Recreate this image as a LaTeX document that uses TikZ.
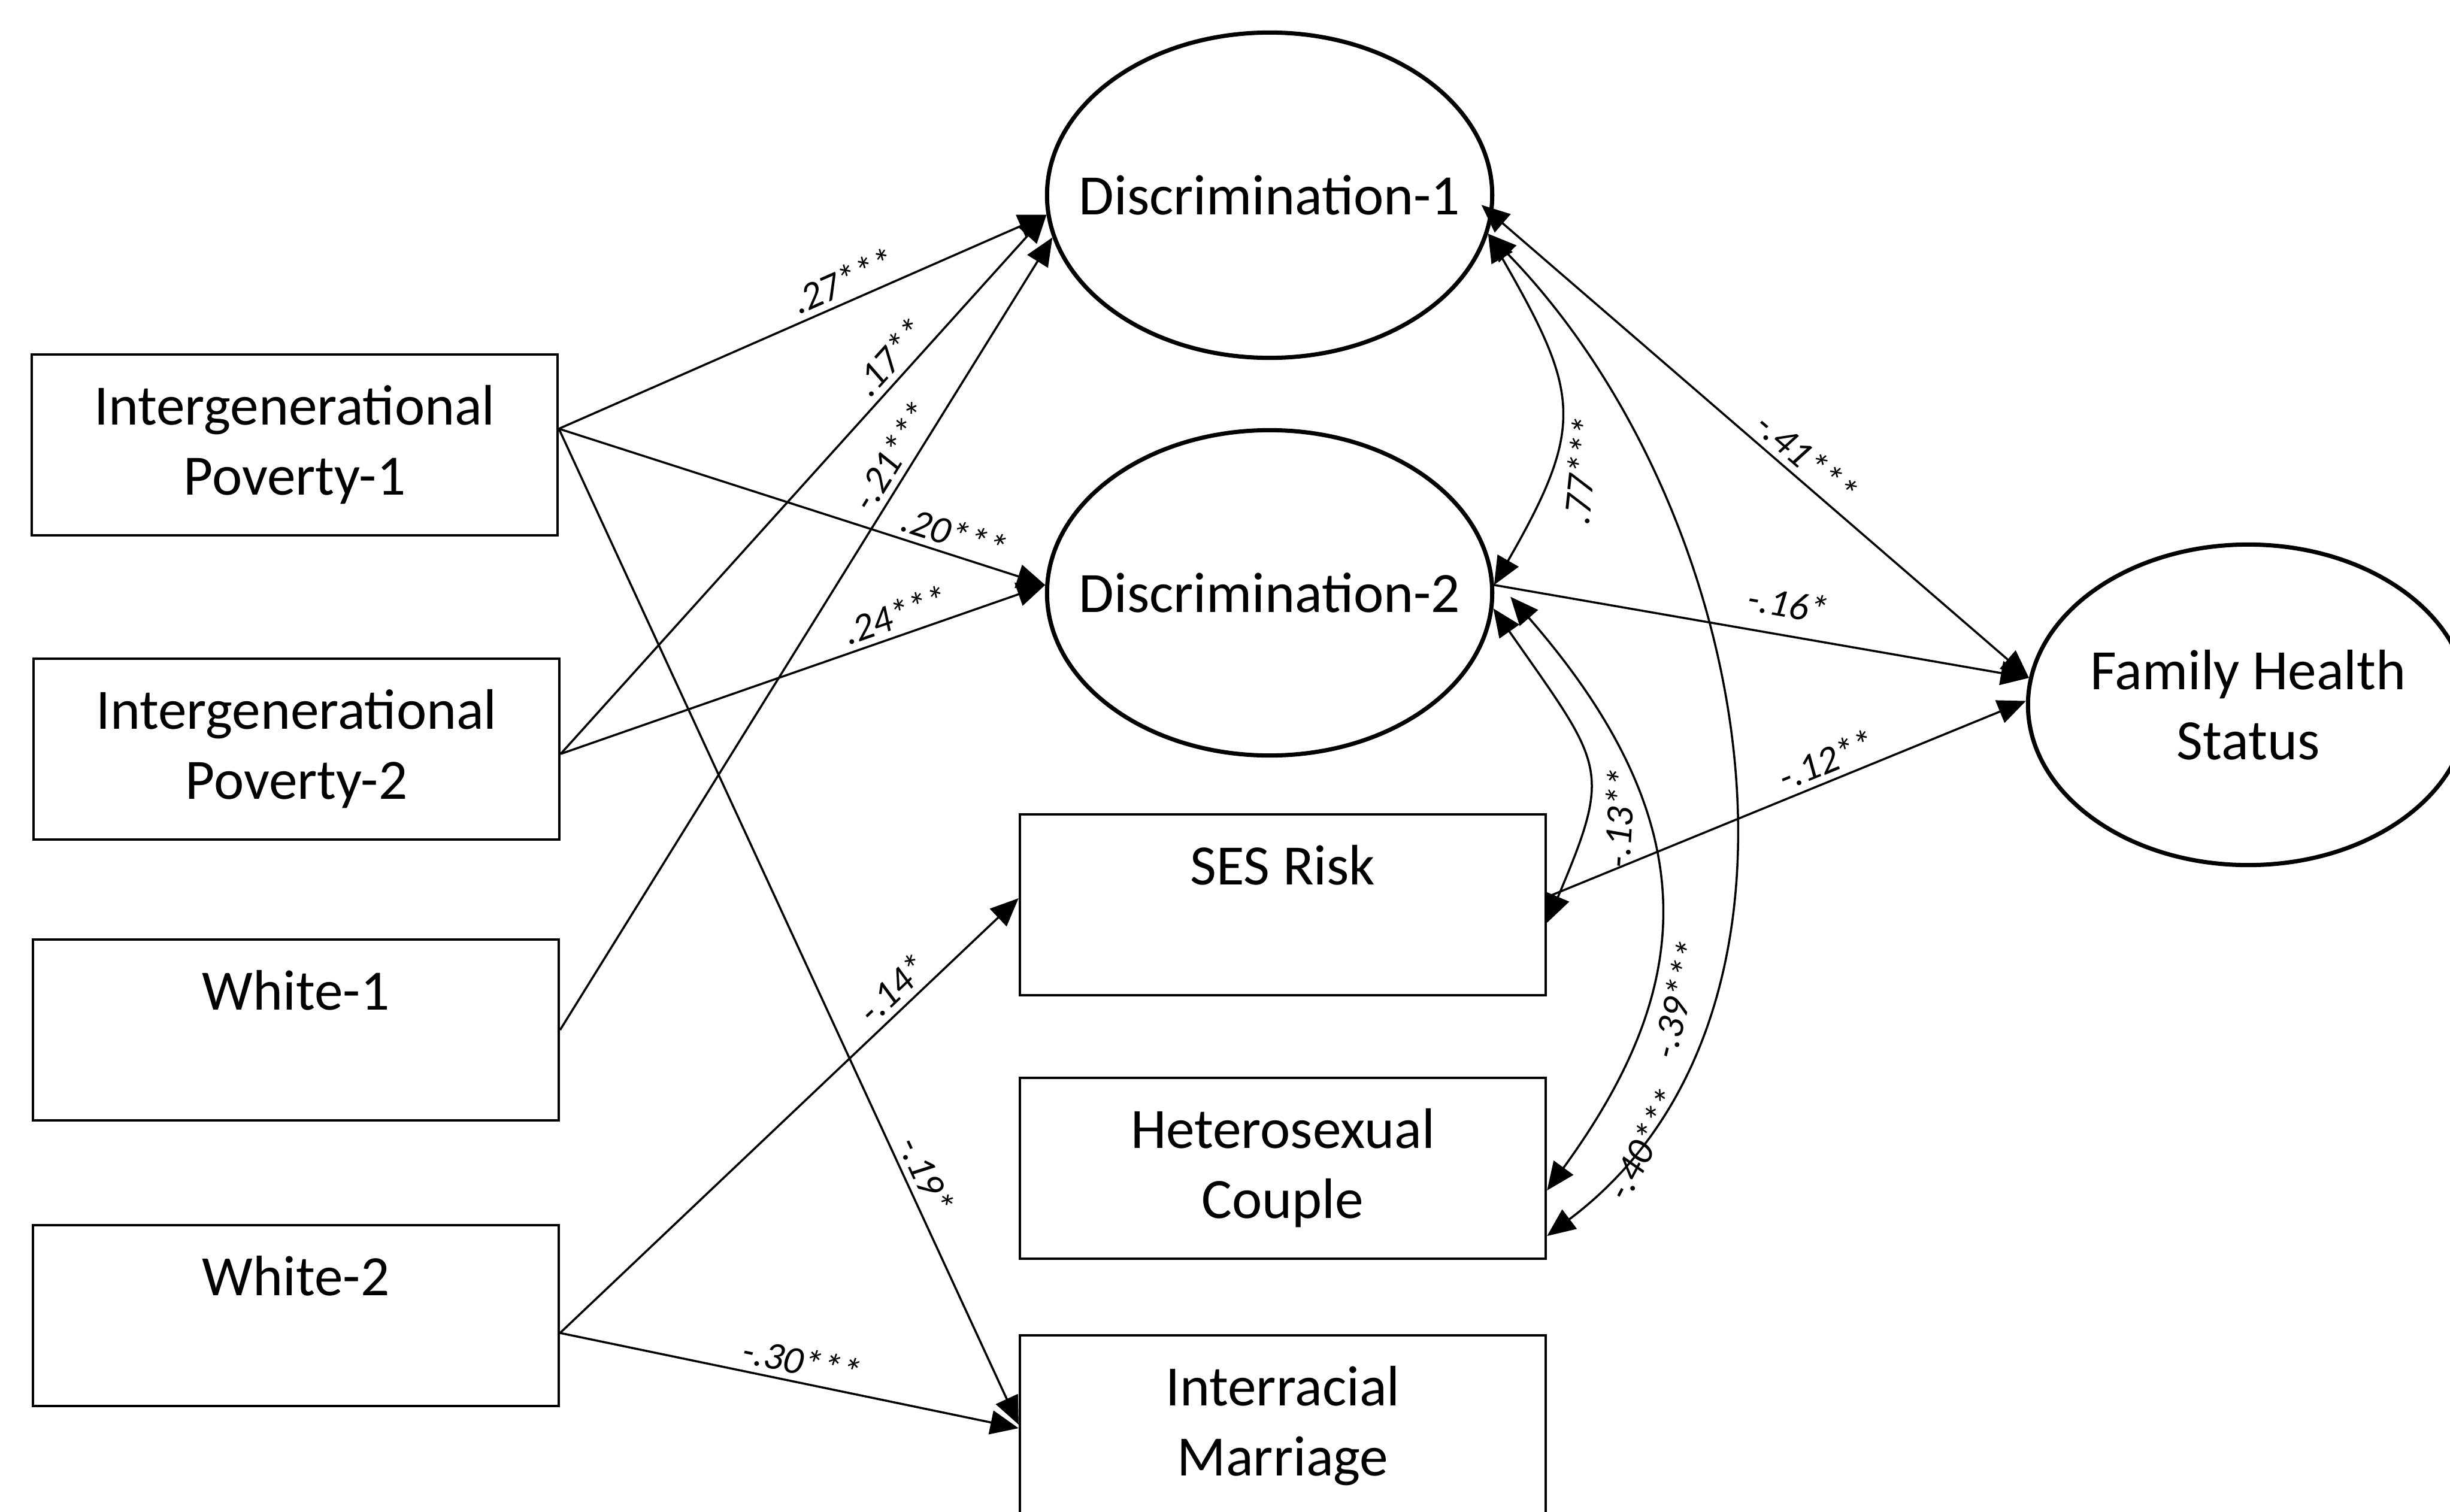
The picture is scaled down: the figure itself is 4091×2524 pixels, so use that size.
\documentclass[tikz,border=0pt]{standalone}
\usepackage{fontspec}
\setmainfont{Carlito}
\usetikzlibrary{arrows.meta,shapes.geometric,calc}
\begin{document}
\begin{tikzpicture}[x=0.01cm,y=-0.01cm,
  mtext/.style={align=center, inner sep=0pt, font=\fontsize{27.1pt}{33.3pt}\selectfont},
  box/.style={draw, line width=1.1pt, rectangle, minimum width=8.78cm, minimum height=3.02cm, mtext},
  lat/.style={draw, line width=2pt, ellipse, minimum width=7.43cm, minimum height=5.43cm, inner sep=0pt},
  conn/.style={line width=1pt, -{Triangle[length=0.47cm,width=0.40cm]}},
  both/.style={line width=1pt, {Triangle[length=0.47cm,width=0.40cm]}-{Triangle[length=0.47cm,width=0.40cm]}},
  coef/.style={font=\fontsize{18.5pt}{22pt}\selectfont\itshape, inner sep=3pt},
]
\useasboundingbox (0,0) rectangle (4091,2524);
\clip (0,0) rectangle (4091,2524);
\fill[white] (0,0) rectangle (4091,2524);

% nodes
\node[box] (ip1) at (492,743) {Intergenerational\\Poverty-1};
\node[box] (ip2) at (495,1251) {Intergenerational\\Poverty-2};
\node[box] (w1) at (494,1720) {White-1\\\phantom{Py}};
\node[box] (w2) at (494,2197) {White-2\\\phantom{Py}};
\node[lat, label={[mtext]center:Discrimination-1}] (d1) at (2120,326) {};
\node[lat, label={[mtext]center:Discrimination-2}] (d2) at (2120,990) {};
\node[lat, minimum width=7.35cm, minimum height=5.35cm, label={[mtext]center:{Family Health\\Status}}] (fhs) at (3754,1177) {};
\node[box] (ses) at (2142,1511) {SES Risk\\\phantom{Py}};
\node[box] (het) at (2142,1951) {Heterosexual\\Couple};
\node[box] (int) at (2142,2381) {Interracial\\Marriage};

% regression paths
\draw[conn] ([yshift=0.27cm]ip1.east) -- (d1.185) node[coef, sloped, above, pos=0.6] {.27***};
\draw[conn] ([yshift=-0.08cm]ip2.east) -- (d1.185) node[coef, sloped, above, pos=0.71] {.17**};
\draw[conn] (w1.east) -- (d1.191) node[coef, sloped, above, pos=0.71] {-.21***};
\draw[conn] ([yshift=0.27cm]ip1.east) -- (d2.178) node[coef, sloped, above, pos=0.80] {.20***};
\draw[conn] ([yshift=-0.08cm]ip2.east) -- (d2.178) node[coef, sloped, above, pos=0.705] {.24***};
\draw[conn] ([yshift=-0.29cm]w2.east) -- ([yshift=0.11cm]ses.west) node[coef, sloped, above, pos=0.757] {-.14*};
\draw[conn] ([yshift=0.27cm]ip1.east) -- ([yshift=0.02cm]int.west) node[coef, sloped, above, pos=0.758] {-.19*};
\draw[conn] ([yshift=-0.29cm]w2.east) -- ([yshift=-0.04cm]int.west) node[coef, sloped, above, pos=0.518] {-.30***};
\draw[both, shorten <=-0.25cm] (d1.355) -- (fhs.173) node[coef, sloped, above, pos=0.56] {-.41***};
\draw[conn] (d2.2) -- (fhs.173) node[coef, sloped, above=5pt, pos=0.54] {-.16*};
\draw[conn] ([yshift=0.13cm]ses.east) -- (fhs.179) node[coef, sloped, above, pos=0.6] {-.12**};

% correlations
\draw[both] (d1.350) .. controls +(153,266) and +(153,-266) .. (d2.2);
\draw[both] (d1.350) .. controls +(440,452) and +(500,-375) .. ([yshift=-1.13cm]het.east);
\draw[both] ([xshift=0.27cm]d2.359) .. controls +(340,390) and +(240,-330) .. ([yshift=-0.37cm]het.east);
\draw[both] (d2.356) .. controls +(185,265) and +(110,-260) .. ([yshift=-0.30cm]ses.east);

\node[coef, rotate=84] (l77) at (2640,786) {.77***};
\node[coef, rotate=87] (l13) at (2703,1366) {-.13**};
\node[coef, rotate=76] (l39) at (2800,1669) {-.39***};
\node[coef, rotate=62] (l40) at (2744,1911) {-.40***};
\end{tikzpicture}
\end{document}
